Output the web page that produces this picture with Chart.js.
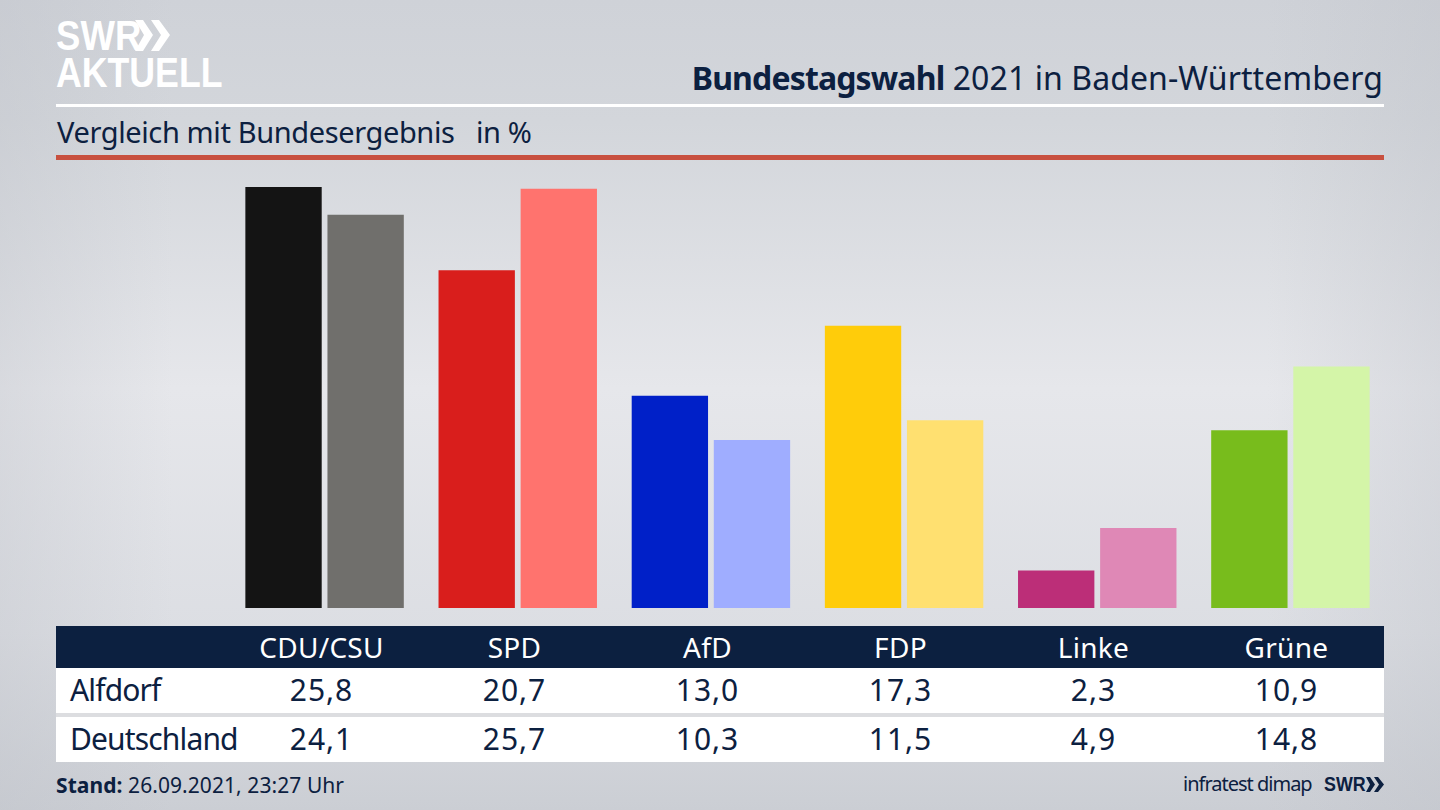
<!DOCTYPE html>
<html lang="de">
<head>
    <meta charset="UTF-8">
    <title>Bundestagswahl 2021 in Baden-Württemberg</title>
    <script src="https://cdn.jsdelivr.net/npm/chart.js"></script>
    <style>
        html, body { margin: 0; padding: 0; }
        body {
            width: 1440px;
            height: 810px;
            position: relative;
            overflow: hidden;
            font-family: 'Noto Sans', sans-serif;
            color: #0c2040;
            background:
                linear-gradient(90deg, rgba(190,193,200,0.35), rgba(255,255,255,0) 12%, rgba(255,255,255,0) 88%, rgba(190,193,200,0.35)),
                linear-gradient(180deg, #cfd2d8 0%, #d3d6db 15%, #e6e7eb 48%, #dcdee3 78%, #cbced4 100%);
        }
        .txt { position: absolute; white-space: nowrap; transform-origin: 0 50%; }
        .rule { position: absolute; left: 56px; width: 1328px; }
        #logo1, #logo2 { color: #fff; font-family: 'Liberation Sans', sans-serif; font-weight: bold; font-size: 43px; }
        #chartBox { position: absolute; left: 228px; top: 187px; width: 1159px; height: 421px; }
        #tbl {
            position: absolute;
            left: 56px;
            top: 626px;
            width: 1328px;
            display: grid;
            grid-template-columns: 169px repeat(6, 193px) 1fr;
            grid-template-rows: 42px 45px 4px 45px;
            font-size: 30px;
            letter-spacing: 1px;
        }
        #tbl div { display: flex; align-items: center; justify-content: center; white-space: nowrap; }
        #tbl .head { background: #0c2040; color: #fff; font-size: 28px; letter-spacing: 0.3px; }
        #tbl .row { background: #fff; padding-bottom: 2px; box-sizing: border-box; }
        #tbl .name { justify-content: flex-start; padding-left: 14px; letter-spacing: -0.85px; position: relative; z-index: 1; }
        #tbl .gap { grid-column: 1 / -1; background: #dcdde0; }
    </style>
</head>
<body>
    <div class="txt" id="logo1" style="left:56px;top:11px;transform:scaleX(0.85);">SWR</div>
    <svg style="position:absolute;left:135px;top:20px" width="36" height="32">
        <polygon fill="#fff" points="0,0 8,0 18,15 8,31 0,31 9,15"/>
        <polygon fill="#fff" points="16,0 24,0 35,15 24,31 16,31 26,15"/>
    </svg>
    <div class="txt" id="logo2" style="left:56px;top:48px;transform:scaleX(0.83);">AKTUELL</div>

    <div class="txt" style="right:57px;top:56px;font-size:32px;letter-spacing:0.08px;"><b style="letter-spacing:-0.85px;">Bundestagswahl</b> 2021 in Baden-Württemberg</div>
    <div class="rule" style="top:104px;height:3px;background:#fff;"></div>
    <div class="txt" style="left:57px;top:112px;font-size:29px;letter-spacing:-0.38px;">Vergleich mit Bundesergebnis &nbsp; in %</div>
    <div class="rule" style="top:155px;height:5px;background:#c8503f;"></div>

    <div id="chartBox"><canvas id="chart" width="1159" height="421"></canvas></div>
    <div id="tbl"></div>

    <div class="txt" style="left:56px;top:771px;font-size:21px;letter-spacing:0.07px;"><b>Stand:</b> 26.09.2021, 23:27 Uhr</div>
    <div class="txt" style="left:1183px;top:770px;font-size:20px;letter-spacing:-1px;">infratest dimap</div>
    <div class="txt" style="left:1324px;top:772px;font-size:21px;font-weight:bold;font-family:'Liberation Sans',sans-serif;transform:scaleX(0.85);">SWR</div>
    <svg style="position:absolute;left:1366px;top:777px" width="18" height="16">
        <polygon fill="#0c2040" points="0,0 4,0 9,7.5 4,15 0,15 4,7.5"/>
        <polygon fill="#0c2040" points="8,0 12,0 18,7.5 12,15 8,15 13,7.5"/>
    </svg>

    <script>
        const parties = ['CDU/CSU', 'SPD', 'AfD', 'FDP', 'Linke', 'Grüne'];
        const alfdorf = [25.8, 20.7, 13.0, 17.3, 2.3, 10.9];
        const deutschland = [24.1, 25.7, 10.3, 11.5, 4.9, 14.8];
        const alfdorfColors = ['#141414', '#d91e1c', '#0020c8', '#ffcc0a', '#bc2e78', '#78bc1c'];
        const deutschlandColors = ['#706f6c', '#ff736e', '#9fadff', '#ffe070', '#df88b6', '#d4f5a8'];

        const fmt = v => v.toFixed(1).replace('.', ',');

        // table below the bars
        const tbl = document.getElementById('tbl');
        function cell(text, cls) {
            const d = document.createElement('div');
            d.className = cls;
            d.textContent = text;
            tbl.appendChild(d);
            return d;
        }
        function addRow(name, values) {
            cell(name, 'row name');
            values.forEach(v => cell(fmt(v), 'row'));
            cell('', 'row');
        }
        cell('', 'head');
        parties.forEach(p => cell(p, 'head'));
        cell('', 'head');
        addRow('Alfdorf', alfdorf);
        cell('', 'gap');
        addRow('Deutschland', deutschland);

        new Chart(document.getElementById('chart'), {
            type: 'bar',
            data: {
                labels: parties,
                datasets: [
                    { label: 'Alfdorf', data: alfdorf, backgroundColor: alfdorfColors },
                    { label: 'Deutschland', data: deutschland, backgroundColor: deutschlandColors },
                ],
            },
            options: {
                responsive: false,
                animation: false,
                devicePixelRatio: 1,
                categoryPercentage: 0.85,
                barPercentage: 0.93,
                plugins: { legend: { display: false }, tooltip: { enabled: false } },
                scales: {
                    x: { display: false },
                    y: { display: false, min: 0, max: 25.8 },
                },
            },
        });
    </script>
</body>
</html>
